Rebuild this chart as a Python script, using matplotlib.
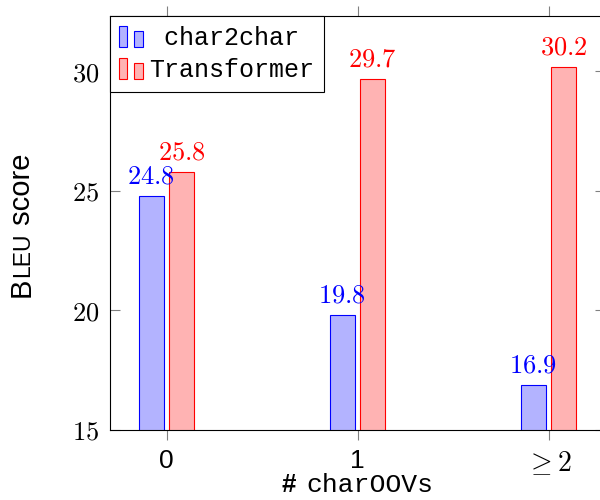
import matplotlib
matplotlib.use('Agg')
import matplotlib.pyplot as plt
from matplotlib.patches import Rectangle
from matplotlib.legend_handler import HandlerBase
import numpy as np

# ---------------- data ----------------
categories = ['0', '1', r'$\geq 2$']
char2char = [24.8, 19.8, 16.9]
transformer = [25.8, 29.7, 30.2]
series_labels = [' char2char', 'Transformer']
yticks = [15, 20, 25, 30]

plt.rcParams['mathtext.fontset'] = 'cm'

W, H = 600, 500
fig = plt.figure(figsize=(6, 5), dpi=100)
ax = fig.add_axes([110 / W, 1 - 430 / H, 495.4 / W, 414 / H])

blue_face, blue_edge = (0.7, 0.7, 1.0), (0, 0, 1)
red_face, red_edge = (1.0, 0.7, 0.7), (1, 0, 0)

x = np.arange(len(categories))
bw = 0.132
off_b, off_r = -0.081, 0.078
ax.bar(x + off_b, char2char, bw, color=blue_face, edgecolor=blue_edge, linewidth=0.8, zorder=2)
ax.bar(x + off_r, transformer, bw, color=red_face, edgecolor=red_edge, linewidth=0.8, zorder=2)

for xi, v in zip(x, char2char):
    ax.annotate(f'${v}$', (xi + off_b, v), xytext=(0, 9), textcoords='offset points',
                ha='center', va='baseline', color='blue', fontsize=19, zorder=5)
for xi, v in zip(x, transformer):
    ax.annotate(f'${v}$', (xi + off_r, v), xytext=(0, 9), textcoords='offset points',
                ha='center', va='baseline', color='red', fontsize=19, zorder=5)

ax.set_xlim(-0.297, 2.297)
ax.set_ylim(15, 32.32)
ax.set_xticks(x)
ax.set_xticklabels(categories, family='Liberation Sans', fontsize=19)
ax.get_xticklabels()[2].set_fontsize(20)
ax.set_yticks(yticks)
ax.set_yticklabels([f'${v}$' for v in yticks], fontsize=19)
ax.tick_params(axis='x', direction='out', length=7, width=0.8, color='0.5', pad=7,
               top=True, bottom=True)
ax.tick_params(axis='y', direction='in', length=7, width=0.8, color='0.5', pad=8,
               left=True, right=True)
for s in ax.spines.values():
    s.set_color('black')
    s.set_linewidth(0.8)


# ---------------- legend ----------------
class TwoBarHandler(HandlerBase):
    def __init__(self, face, edge):
        super().__init__()
        self.face, self.edge = face, edge

    def create_artists(self, legend, orig_handle, xdescent, ydescent, width, height, fontsize, trans):
        x0, y0 = -xdescent, -ydescent
        r1 = Rectangle((x0, y0), 0.31 * width, height, fc=self.face, ec=self.edge, lw=0.8, transform=trans)
        r2 = Rectangle((x0 + 0.61 * width, y0), 0.39 * width, 0.74 * height, fc=self.face, ec=self.edge,
                       lw=0.8, transform=trans)
        return [r1, r2]


p1 = Rectangle((0, 0), 1, 1)
p2 = Rectangle((0, 0), 1, 1)
leg = ax.legend([p1, p2], series_labels,
                handler_map={p1: TwoBarHandler(blue_face, blue_edge), p2: TwoBarHandler(red_face, red_edge)},
                loc='upper left', bbox_to_anchor=(0, 1), borderaxespad=0,
                prop={'family': 'Liberation Mono', 'size': 18},
                fancybox=False, framealpha=1, edgecolor='black',
                borderpad=0.38, handlelength=0.95, handleheight=0.95, handletextpad=0.25,
                labelspacing=0.32)
leg.get_frame().set_linewidth(0.8)
leg.set_zorder(10)

# ---------------- axis labels ----------------
renderer = fig.canvas.get_renderer()

# x label: "# charOOVs" centred under the axes
t_hash = fig.text(0, 0, '#', family='Liberation Sans', fontsize=18.5, fontweight='bold',
                  ha='left', va='baseline')
t_mono = fig.text(0, 0, 'charOOVs', family='Liberation Mono', fontsize=19,
                  ha='left', va='baseline')
w_hash = t_hash.get_window_extent(renderer).width
w_mono = t_mono.get_window_extent(renderer).width
gap = 11
xs = 357.5 - (w_hash + gap + w_mono) / 2
base_y = 1 - 492 / H
t_hash.set_position((xs / W, base_y))
t_mono.set_position(((xs + w_hash + gap) / W, base_y))

# y label: "BLEU score" with small caps
pieces = [('B', 21), ('LEU', 16.5), (' score', 21)]
texts, lengths = [], []
for s, sz in pieces:
    t = fig.text(0, 0, s, rotation=90, rotation_mode='anchor', ha='left', va='baseline',
                 fontsize=sz, family='Liberation Sans')
    texts.append(t)
    lengths.append(t.get_window_extent(renderer).height)
ystart = (H - 225) - sum(lengths) / 2
for t, L in zip(texts, lengths):
    t.set_position((29.5 / W, ystart / H))
    ystart += L

fig.savefig('out.png', dpi=100)
